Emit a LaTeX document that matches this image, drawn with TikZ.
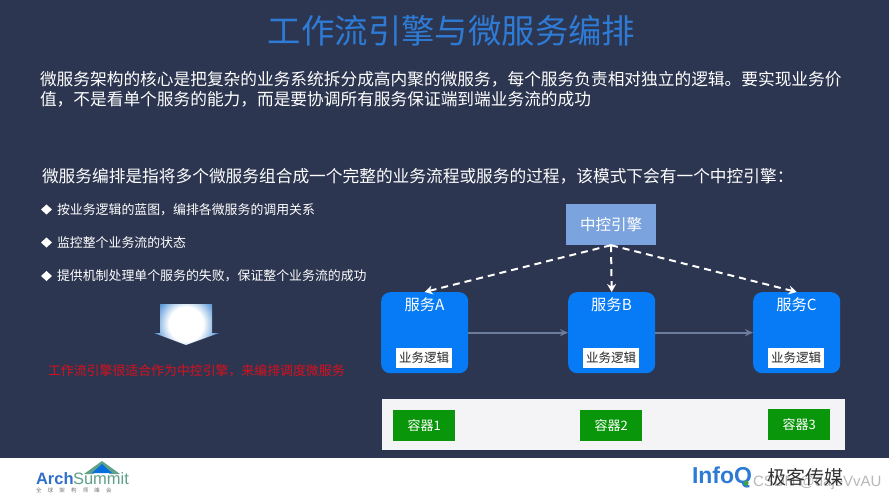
\documentclass[tikz,border=0pt]{standalone}
\usepackage{fontspec}
\setmainfont{Liberation Sans}
\newfontfamily\cjk{Noto Sans CJK SC}
\newfontfamily\lat{Liberation Sans}
\usetikzlibrary{arrows.meta}
\definecolor{bgnavy}{HTML}{2D3650}
\definecolor{titleblue}{HTML}{2E7BD6}
\definecolor{svcblue}{HTML}{067BF5}
\definecolor{enginefill}{HTML}{7BA3DE}
\definecolor{flowgrey}{HTML}{6C7C9C}
\definecolor{boxgreen}{HTML}{0A960A}
\definecolor{panelgrey}{HTML}{F4F4F6}
\definecolor{alertred}{HTML}{D8101E}
\definecolor{darrow}{HTML}{3E86D0}
\definecolor{summitgreen}{HTML}{5FA08A}
\definecolor{archblue}{HTML}{2F6FC8}
\definecolor{tailgreen}{HTML}{3FA34D}
\pgfdeclareradialshading{glow}{\pgfpoint{0bp}{0bp}}{color(0bp)=(white);color(10bp)=(white);color(20bp)=(darrow);color(50bp)=(darrow)}
\newcommand{\fs}[1]{\fontsize{#1pt}{#1pt}\selectfont\cjk}
\tikzset{
  x=1pt,y=-1pt,
  txt/.style={inner sep=0pt,outer sep=0pt,text=white,anchor=west},
  service/.style={fill=svcblue,rounded corners=9pt,minimum width=87pt,minimum height=81pt,inner sep=0pt,anchor=north west},
  svcname/.style={inner sep=0pt,text=white,font=\fs{15.3}},
  logic/.style={fill=white,text=black!85,font=\fs{12.5},minimum width=56pt,minimum height=20pt,inner sep=0pt},
  container/.style={fill=boxgreen,text=white,font=\fs{13},minimum width=62pt,minimum height=31pt,inner sep=0pt,anchor=north west},
  ctrl/.style={-{Stealth[length=8pt,width=9pt]},white,line width=2pt,dash pattern=on 7pt off 5pt},
  flow/.style={-{Stealth[length=8pt,width=7pt]},flowgrey,line width=1.6pt},
}
\begin{document}
\begin{tikzpicture}
\useasboundingbox (0,0) rectangle (889,500);
\fill[bgnavy] (0,0) rectangle (889,458);
\fill[white] (0,458) rectangle (889,500);
\node[inner sep=0pt,text=titleblue,font=\fs{33.4}] (title) at (451.5,31) {工作流引擎与微服务编排};
\node[txt,font=\fs{16.7}] (p1) at (40,79) {微服务架构的核心是把复杂的业务系统拆分成高内聚的微服务，每个服务负责相对独立的逻辑。要实现业务价};
\node[txt,font=\fs{16.7}] (p2) at (40,99) {值，不是看单个服务的能力，而是要协调所有服务保证端到端业务流的成功};
\node[txt,font=\fs{16.7}] (p3) at (42,176) {微服务编排是指将多个微服务组合成一个完整的业务流程或服务的过程，该模式下会有一个中控引擎：};
\foreach \n/\yy in {a/209.5,b/242.5,c/276}{
  \fill[white] (41,\yy) -- (46.5,\yy-5) -- (52,\yy) -- (46.5,\yy+5) -- cycle;
}
\node[txt,font=\fs{12.9}] (b1) at (57,210) {按业务逻辑的蓝图，编排各微服务的调用关系};
\node[txt,font=\fs{12.9}] (b2) at (57,243) {监控整个业务流的状态};
\node[txt,font=\fs{12.9}] (b3) at (57,276) {提供机制处理单个服务的失败，保证整个业务流的成功};
\begin{scope}
  \clip (160,304) -- (212,304) -- (212,333) -- (219,333) -- (186,345) -- (154,333) -- (160,333) -- cycle;
  \shade[shading=glow] (143,281) rectangle (229,367);
\end{scope}
\node[txt,text=alertred,font=\fs{12.9}] (red) at (48,371) {工作流引擎很适合作为中控引擎，来编排调度微服务};
% diagram
\node[fill=enginefill,text=white,font=\fs{15.5},minimum width=90pt,minimum height=41pt,inner sep=0pt] (engine) at (611,224.5) {中控引擎};
\node[service] (sa) at (381,292) {};
\node[service] (sb) at (568,292) {};
\node[service] (sc) at (753,292) {};
\node[svcname] at (424.5,305) {服务A};
\node[svcname] at (611.5,305) {服务B};
\node[svcname] at (796.5,305) {服务C};
\node[logic] at (424,358) {业务逻辑};
\node[logic] at (611,358) {业务逻辑};
\node[logic] at (796,358) {业务逻辑};
\draw[ctrl] (engine.south) -- (sa.north);
\draw[ctrl] (engine.south) -- (sb.north);
\draw[ctrl] (engine.south) -- (sc.north);
\draw[flow] (sa.east) -- (sb.west);
\draw[flow] (sb.east) -- (sc.west);
% containers
\fill[panelgrey] (382,399) rectangle (845,449.5);
\node[container] (c1) at (393,410) {容器1};
\node[container] (c2) at (580,410) {容器2};
\node[container] (c3) at (768,408.5) {容器3};
% logos
\fill[summitgreen] (84,474) -- (102,461) -- (120,474) -- (110,474) -- (102,468) -- (93,474) -- cycle;
\fill[svcblue!90!black] (92,473) -- (102,464) -- (112,473) -- cycle;
\node[txt,text=archblue,font={\lat\bfseries\fontsize{16.5pt}{16.5pt}\selectfont}] (arch) at (36,479) {Arch};
\node[txt,text=summitgreen,font={\lat\fontsize{16.5pt}{16.5pt}\selectfont}] (summit) at (73,479) {Summit};
\node[txt,text=black!55,font=\fs{5.5}] (cn) at (36,490) {全\hspace{6.2pt}球\hspace{6.2pt}架\hspace{6.2pt}构\hspace{6.2pt}师\hspace{6.2pt}峰\hspace{6.2pt}会};
\node[txt,text=black!28,font={\lat\fontsize{15pt}{15pt}\selectfont}] (wm) at (753,483) {CSDN @dajeVvAU};
\node[txt,text=titleblue,font={\lat\bfseries\fontsize{23pt}{23pt}\selectfont}] (infoq) at (692,477) {InfoQ};
\fill[tailgreen] (746,483) circle[radius=2.6pt];
\node[txt,text=black!80,font=\fs{19}] (geek) at (767,477) {极客传媒};
\end{tikzpicture}
\end{document}
